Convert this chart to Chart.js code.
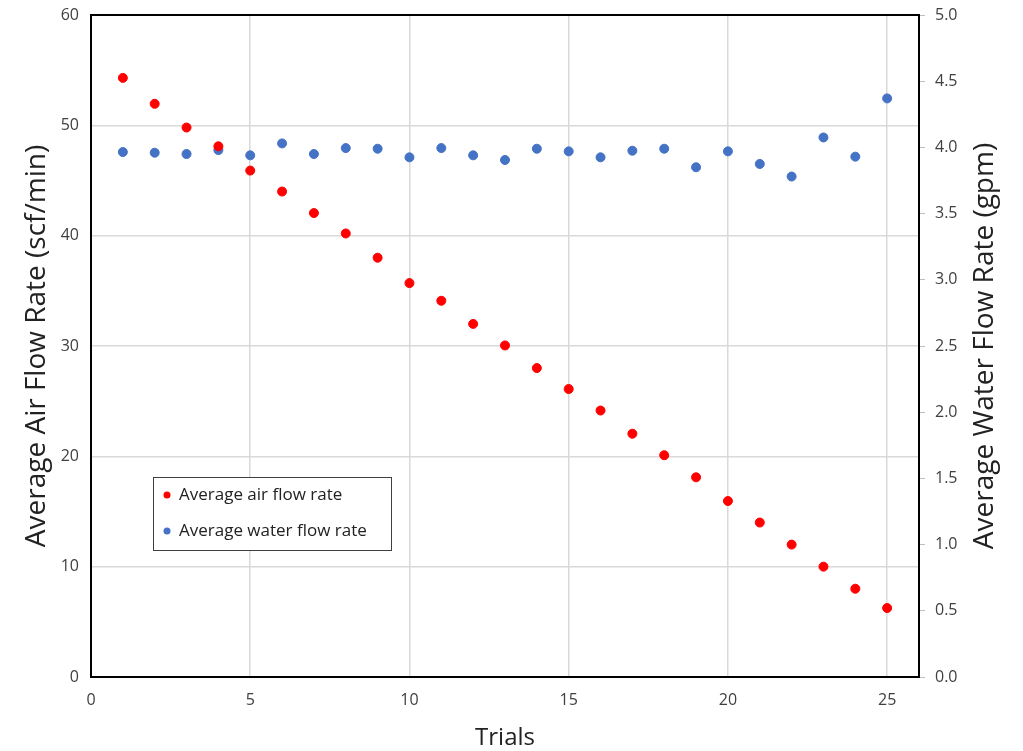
<!DOCTYPE html>
<html>
<head>
<meta charset="utf-8">
<script src="https://cdn.jsdelivr.net/npm/chart.js@4.4.1/dist/chart.umd.min.js"></script>
<style>
  html, body { margin: 0; padding: 0; background: #fff; }
  #wrap { width: 1023px; height: 751px; }
</style>
</head>
<body>
<div id="wrap"><canvas id="grafico" width="1023" height="751"></canvas></div>
<script>
// Dados
const trials = [1, 2, 3, 4, 5, 6, 7, 8, 9, 10, 11, 12, 13, 14, 15, 16, 17, 18, 19, 20, 21, 22, 23, 24, 25];
const airFlow = [54.3, 51.95, 49.8, 48.1, 45.9, 44.0, 42.05, 40.2, 38.0, 35.7, 34.1, 32.0, 30.05, 28.0, 26.1, 24.15, 22.05, 20.1, 18.1, 15.95, 14.0, 12.0, 10.0, 8.0, 6.25];
const waterFlow = [3.965, 3.96, 3.95, 3.98, 3.94, 4.03, 3.95, 3.995, 3.99, 3.925, 3.995, 3.94, 3.905, 3.99, 3.97, 3.925, 3.975, 3.99, 3.85, 3.97, 3.875, 3.78, 4.075, 3.93, 4.37];
const xTicks = [0, 5, 10, 15, 20, 25];
const tituloDireita = 'Average Water Flow Rate (gpm)';

const fonte = "'Open Sans', 'Liberation Sans', sans-serif";
const corTexto = '#404040';

// Caixa do gráfico (borda preta), título da direita e legenda dentro da área
const molduraELegenda = {
    id: 'molduraELegenda',
    afterDraw(chart) {
        const ctx = chart.ctx;
        const a = chart.chartArea;
        ctx.save();
        ctx.strokeStyle = '#000';
        ctx.lineWidth = 2;
        ctx.strokeRect(a.left, a.top, a.right - a.left, a.bottom - a.top);

        // título do eixo direito, lido de baixo para cima
        ctx.save();
        ctx.translate(985, (a.top + a.bottom) / 2);
        ctx.rotate(-Math.PI / 2);
        ctx.font = '28px ' + fonte;
        ctx.fillStyle = '#222';
        ctx.textAlign = 'center';
        ctx.textBaseline = 'middle';
        ctx.fillText(tituloDireita, 0, 0);
        ctx.restore();

        // legenda
        const lx = 153, ly = 477, lw = 238, lh = 73;
        ctx.fillStyle = '#fff';
        ctx.fillRect(lx, ly, lw, lh);
        ctx.strokeStyle = '#404040';
        ctx.lineWidth = 1;
        ctx.strokeRect(lx + 0.5, ly + 0.5, lw, lh);
        ctx.font = '17px ' + fonte;
        ctx.textBaseline = 'middle';
        chart.data.datasets.forEach((ds, i) => {
            const cy = ly + 18 + i * 36;
            ctx.beginPath();
            ctx.fillStyle = ds.backgroundColor;
            ctx.arc(lx + 14, cy, 3.5, 0, Math.PI * 2);
            ctx.fill();
            ctx.fillStyle = '#222';
            ctx.fillText(ds.label, lx + 26, cy);
        });
        ctx.restore();
    }
};

const config = {
    type: 'scatter',
    data: {
        datasets: [{
            label: 'Average air flow rate',
            data: trials.map((t, i) => ({ x: t, y: airFlow[i] })),
            backgroundColor: '#FF0000',
            borderColor: '#FF0000',
            pointRadius: 4.5,
            yAxisID: 'y'
        }, {
            label: 'Average water flow rate',
            data: trials.map((t, i) => ({ x: t, y: waterFlow[i] })),
            backgroundColor: '#4472C4',
            borderColor: '#4472C4',
            pointRadius: 4.5,
            yAxisID: 'y2'
        }]
    },
    options: {
        responsive: false,
        animation: false,
        layout: { padding: { top: 0, left: 0, right: 0, bottom: 0 } },
        plugins: {
            legend: { display: false },
            tooltip: { enabled: false }
        },
        scales: {
            x: {
                type: 'linear',
                min: 0,
                max: 26,
                afterBuildTicks: (s) => { s.ticks = xTicks.map(v => ({ value: v })); },
                afterFit: (s) => { s.height = 74; },
                grid: { color: '#d9d9d9', lineWidth: 1.5, drawTicks: false },
                border: { display: false },
                ticks: { color: corTexto, font: { family: fonte, size: 16 }, padding: 14 },
                title: {
                    display: true, text: 'Trials', color: '#222',
                    font: { family: fonte, size: 24 }, padding: { top: 0, bottom: -2 }
                }
            },
            y: {
                position: 'left',
                min: 0,
                max: 60,
                afterFit: (s) => { s.width = 91; s.paddingTop = 15; },
                grid: { color: '#d9d9d9', lineWidth: 1.5, drawTicks: false },
                border: { display: false },
                ticks: { stepSize: 10, color: corTexto, font: { family: fonte, size: 16 }, padding: 12 },
                title: {
                    display: true, text: 'Average Air Flow Rate (scf/min)', color: '#222',
                    font: { family: fonte, size: 28 }, padding: { top: 20, bottom: 0 }
                }
            },
            y2: {
                position: 'right',
                min: 0,
                max: 5,
                afterFit: (s) => { s.width = 104; s.paddingTop = 15; },
                grid: { display: true, drawOnChartArea: false, color: '#bfbfbf', tickLength: 6 },
                border: { display: false },
                ticks: {
                    stepSize: 0.5, color: corTexto, font: { family: fonte, size: 16 }, padding: 10,
                    callback: (v) => v.toFixed(1)
                }
            }
        }
    },
    plugins: [molduraELegenda]
};

const ctx = document.getElementById('grafico').getContext('2d');
const grafico = new Chart(ctx, config);
</script>
</body>
</html>
